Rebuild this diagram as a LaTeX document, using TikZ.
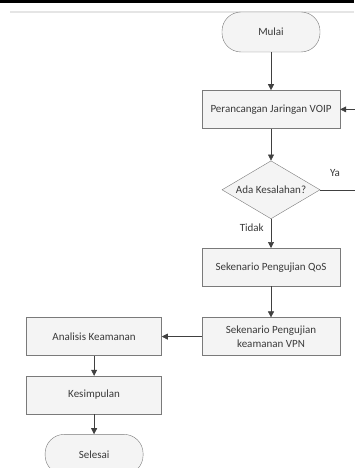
\documentclass[tikz,border=0pt]{standalone}
\usepackage{fontspec}
\setmainfont{Carlito}
\usepackage{tikz}
\usetikzlibrary{positioning,arrows.meta,shapes.geometric}
\usepackage{xcolor}
\definecolor{boxfill}{HTML}{F4F4F4}
\definecolor{boxline}{HTML}{7A7A7A}
\definecolor{flowline}{HTML}{404040}
\definecolor{inktext}{HTML}{3A3A3A}

\begin{document}
\begin{tikzpicture}[
    x=1pt, y=-1pt,
    font=\fontsize{11}{14}\selectfont, text=inktext,
    terminal/.style={rectangle, rounded corners=19pt, draw=boxline, fill=boxfill, minimum width=98pt, minimum height=40pt, inner sep=1pt},
    process/.style={rectangle, draw=boxline, fill=boxfill, minimum width=138pt, minimum height=38pt, inner sep=2pt, align=center},
    decision/.style={diamond, draw=boxline, fill=boxfill, aspect=1.7, minimum width=98pt, minimum height=58pt, inner sep=1pt},
    flow/.style={draw=flowline, line width=0.6pt, -{Triangle[length=6pt, width=6pt]}},
    lbl/.style={inner sep=1pt}
]
\useasboundingbox (0,0) rectangle (354,468);
\fill[black] (0,0) rectangle (354,3);
\draw[gray!20, line width=1.5pt] (10,12) -- (354,12);

\node[terminal] (mulai) at (271,32) {Mulai};
\node[process, below=38pt of mulai] (rancang) {Perancangan Jaringan VOIP};
\node[decision, below=32pt of rancang] (cek) {Ada Kesalahan?};
\node[process, below=29pt of cek] (qos) {Sekenario Pengujian QoS};
\node[process, below=31pt of qos] (vpn) {Sekenario Pengujian\\keamanan VPN};
\node[process, minimum width=135pt, left=40pt of vpn] (analisis) {Analisis Keamanan};
\node[process, minimum width=135pt, below=20pt of analisis] (simpul) {Kesimpulan};
\node[terminal, below=20pt of simpul] (selesai) {Selesai};

\coordinate (balik) at ([xshift=44pt]cek.east);

\draw[flow] (mulai) -- (rancang);
\draw[flow] (rancang) -- (cek);
\draw[flow] (cek) -- node[lbl, pos=0.3, left=6pt] (tidak) {Tidak} (qos);
\draw[flow] (cek.east) -- (balik) |- (rancang.east);
\node[lbl, above left=12pt and 23pt of balik] (ya) {Ya};
\draw[flow] (qos) -- (vpn);
\draw[flow] (vpn) -- (analisis);
\draw[flow] (analisis) -- (simpul);
\draw[flow] (simpul) -- (selesai);
\end{tikzpicture}
\end{document}
